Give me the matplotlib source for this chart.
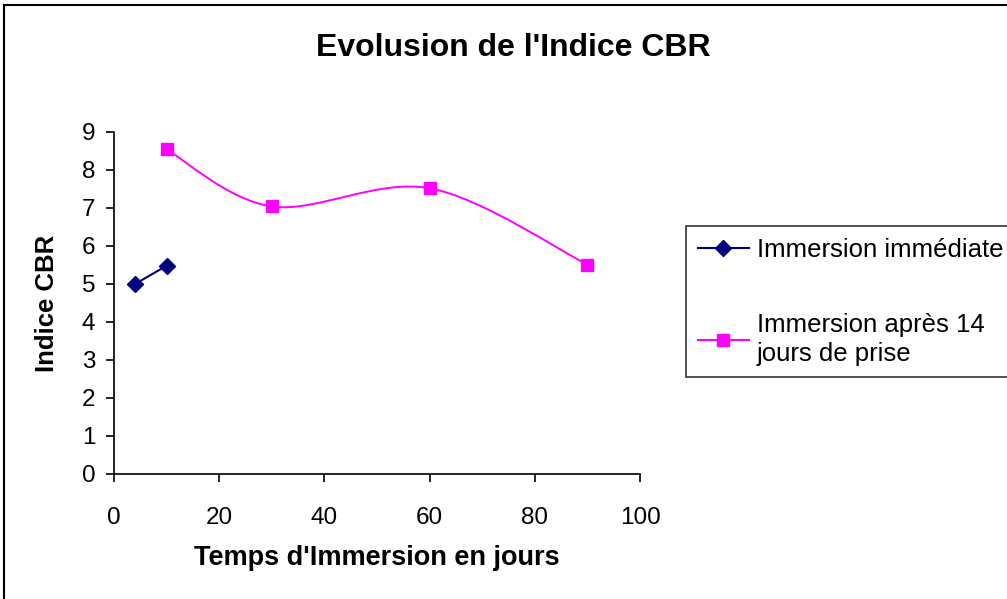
import numpy as np
import matplotlib
matplotlib.use('Agg')
import matplotlib.pyplot as plt
from matplotlib.path import Path
from matplotlib.patches import PathPatch, Rectangle
from matplotlib.lines import Line2D

plt.rcParams['font.family'] = ['Liberation Sans', 'DejaVu Sans']

# Immersion immediate
jours_imm = [4, 10]
cbr_imm = [5.0, 5.48]

# Immersion after 14 days of setting
jours_14 = [10, 30, 60, 90]
cbr_14 = [8.54, 7.04, 7.52, 5.51]

xticks = [0, 20, 40, 60, 80, 100]
yticks = list(range(0, 10))

navy = '#000080'
magenta = '#FF00FF'


def smooth_path(xs, ys):
    # spreadsheet-style smoothed line: cubic bezier through every point
    pts = np.column_stack([xs, ys]).astype(float)
    n = len(pts)
    verts = [pts[0]]
    codes = [Path.MOVETO]
    for i in range(n - 1):
        p0 = pts[i - 1] if i > 0 else pts[i]
        p1 = pts[i]
        p2 = pts[i + 1]
        p3 = pts[i + 2] if i + 2 < n else pts[i + 1]
        c1 = p1 + (p2 - p0) / 6.0
        c2 = p2 - (p3 - p1) / 6.0
        verts += [c1, c2, p2]
        codes += [Path.CURVE4] * 3
    return Path(verts, codes)


fig = plt.figure(figsize=(10.07, 5.99), dpi=100)
ax = fig.add_axes([114 / 1007, 1 - 474 / 599, 526 / 1007, 342 / 599])

ax.plot(jours_imm, cbr_imm, color=navy, lw=1.5, marker='D', ms=8,
        mfc=navy, mec=navy, zorder=3)

ax.add_patch(PathPatch(smooth_path(jours_14, cbr_14), fill=False,
                       edgecolor=magenta, lw=1.4, zorder=2))
ax.plot(jours_14, cbr_14, ls='none', marker='s', ms=9,
        mfc=magenta, mec=magenta, zorder=3)

ax.set_xlim(0, 100)
ax.set_ylim(0, 9)
ax.set_xticks(xticks)
ax.set_yticks(yticks)
for s in ['top', 'right']:
    ax.spines[s].set_visible(False)
for s in ['left', 'bottom']:
    ax.spines[s].set_linewidth(1.2)
ax.tick_params(direction='out', length=5.5, width=1.2, labelsize=17.5)
ax.tick_params(axis='x', pad=18)
ax.tick_params(axis='y', pad=8)

ax.set_xlabel("Temps d'Immersion en jours", fontsize=19.5, fontweight='bold',
              labelpad=12)
ax.set_ylabel('Indice CBR', fontsize=18.5, fontweight='bold', labelpad=16)
fig.text(513 / 1007, 1 - 48 / 599, "Evolusion de l'Indice CBR",
         fontsize=23, fontweight='bold', ha='center', va='center')

handles = [
    Line2D([], [], color=navy, lw=1.5, marker='D', ms=8, mfc=navy, mec=navy),
    Line2D([], [], color=magenta, lw=1.5, marker='s', ms=9, mfc=magenta, mec=magenta),
]
labels = ['Immersion immédiate', 'Immersion après 14\njours de prise']
leg = fig.legend(handles, labels, loc='upper left',
                 bbox_to_anchor=(686 / 1007, 1 - 226 / 599),
                 fontsize=18.5, frameon=True, fancybox=False, shadow=False,
                 handlelength=2.0, handletextpad=0.3, borderpad=0.45,
                 labelspacing=2.0, borderaxespad=0)
leg.get_frame().set_edgecolor('black')
leg.get_frame().set_linewidth(1.2)
for t in leg.get_texts():
    t.set_linespacing(1.25)

# outer chart frame
fig.patches.append(Rectangle((4 / 1007, -0.05), 1.1, 1 - 5 / 599 + 0.05,
                             transform=fig.transFigure, fill=False,
                             edgecolor='black', lw=1.5))

fig.savefig('out.png', dpi=100)
